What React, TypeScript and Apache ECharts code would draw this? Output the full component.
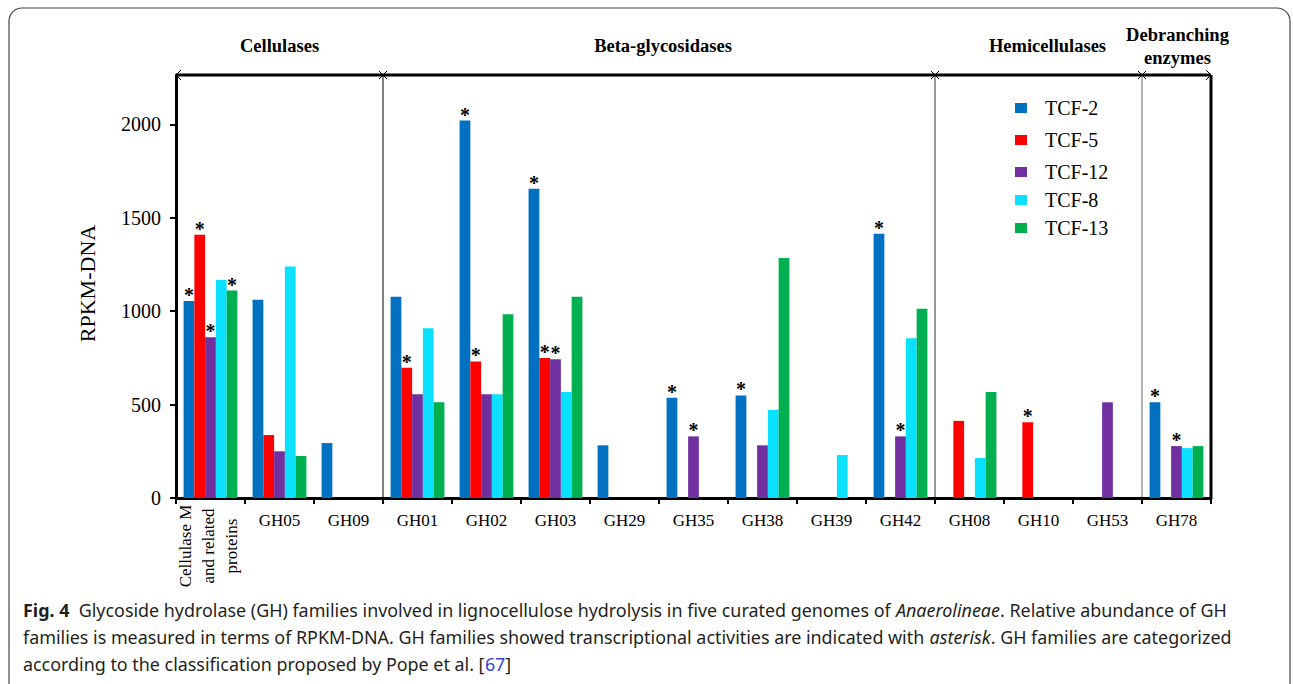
import React, { useEffect, useRef } from "react";
import * as echarts from "echarts";

const categories = [
  "Cellulase M\nand related\nproteins",
  "GH05", "GH09", "GH01", "GH02", "GH03", "GH29", "GH35", "GH38", "GH39", "GH42",
  "GH08", "GH10", "GH53", "GH78",
];
const seriesNames = ["TCF-2", "TCF-5", "TCF-12", "TCF-8", "TCF-13"];
const seriesColors = ["#0070C0", "#FF0000", "#7030A0", "#0AE0FF", "#00B050"];

const tcf2 = [1055, 1062, 294, 1078, 2021, 1656, 282, 537, 549, null, 1415, null, null, null, 513];
const tcf5 = [1410, 337, null, 697, 731, 749, null, null, null, null, null, 413, 406, null, null];
const tcf12 = [861, 250, null, 556, 556, 743, null, 330, 282, null, 330, null, null, 513, 278];
const tcf8 = [1167, 1239, null, 909, 556, 567, null, null, 471, 230, 856, 214, null, null, 267];
const tcf13 = [1111, 225, null, 513, 984, 1078, null, null, 1285, null, 1014, 567, null, null, 278];
const seriesValues = [tcf2, tcf5, tcf12, tcf8, tcf13];

// category indices marked with an asterisk (transcriptional activity)
const starTcf2 = [0, 4, 5, 7, 8, 10, 14];
const starTcf5 = [0, 3, 4, 5, 12];
const starTcf12 = [0, 5, 7, 10, 14];
const starTcf8: number[] = [];
const starTcf13 = [0];
const seriesStars = [starTcf2, starTcf5, starTcf12, starTcf8, starTcf13];

const yTicks = [0, 500, 1000, 1500, 2000];
const yMax = 2265;

const groupNames = ["Cellulases", "Beta-glycosidases", "Hemicellulases", "Debranching\nenzymes"];
const groupStart = [0, 3, 11, 14];
const groupEnd = [3, 11, 14, 15];

const yAxisName = "RPKM-DNA";

const captionLines = [
  "{b|Fig. 4}  Glycoside hydrolase (GH) families involved in lignocellulose hydrolysis in five curated genomes of {i|Anaerolineae}. Relative abundance of GH",
  "families is measured in terms of RPKM-DNA. GH families showed transcriptional activities are indicated with {i|asterisk}. GH families are categorized",
  "according to the classification proposed by Pope et al. [{l|67}]",
];

const SERIF = "Liberation Serif";
const SANS = "Noto Sans";
const CAP_SIZE = 17.5;

function buildOption(): any {
  const legendCenters = [108, 140, 172, 200, 228];
  return {
    animation: false,
    backgroundColor: "#ffffff",
    textStyle: { fontFamily: SERIF },
    grid: { left: 176, right: 82, top: 75, bottom: 186 },
    legend: seriesNames.map((name, i) => ({
      data: [name],
      left: 1015,
      top: legendCenters[i] - 10,
      orient: "vertical",
      icon: "rect",
      itemWidth: 12,
      itemHeight: 10,
      padding: 0,
      selectedMode: false,
      textStyle: {
        fontFamily: SERIF,
        fontSize: 20,
        lineHeight: 20,
        color: "#000",
        padding: [0, 0, 0, 13],
      },
    })),
    xAxis: [
      {
        type: "category",
        data: categories,
        gridIndex: 0,
        axisLine: { show: true, lineStyle: { color: "#000", width: 3 } },
        axisTick: { show: true, alignWithLabel: false, length: 6, lineStyle: { color: "#000", width: 2 } },
        axisLabel: {
          interval: 0,
          margin: 14,
          fontFamily: SERIF,
          fontSize: 17,
          color: "#000",
          formatter: (v: string, i: number) => (i === 0 ? "" : v),
        },
        splitLine: { show: false },
      },
      { type: "value", min: 0, max: 15, show: false, gridIndex: 0 },
    ],
    yAxis: {
      type: "value",
      min: 0,
      max: yMax,
      axisLine: { show: true, lineStyle: { color: "#000", width: 3 } },
      axisTick: { show: true, length: 6, lineStyle: { color: "#000", width: 2 }, customValues: yTicks },
      axisLabel: {
        fontFamily: SERIF,
        fontSize: 20,
        color: "#000",
        margin: 15,
        customValues: yTicks,
        formatter: (v: number) => String(v),
      },
      splitLine: { show: false },
    },
    series: seriesNames.map((name, si) => ({
      type: "bar",
      name,
      xAxisIndex: 0,
      yAxisIndex: 0,
      barGap: "0%",
      barCategoryGap: "22%",
      itemStyle: { color: seriesColors[si] },
      label: {
        show: false,
        position: "top",
        distance: -4,
        formatter: "*",
        fontFamily: SERIF,
        fontSize: 20,
        fontWeight: "bold",
        color: "#000",
      },
      data: seriesValues[si].map((v, ci) =>
        v == null ? null : seriesStars[si].includes(ci) ? { value: v, label: { show: true } } : v
      ),
    })),
  };
}

function measureScale(): number {
  try {
    const c = document.createElement("canvas");
    const ctx = c.getContext("2d")!;
    ctx.font = `${CAP_SIZE}px "${SANS}"`;
    const plain = captionLines[1].replace(/\{\w\|([^}]*)\}/g, "$1");
    const w = ctx.measureText(plain).width;
    const target = 1213;
    if (w > 0) return target / w;
  } catch (e) {}
  return 0.85;
}

function buildGraphic(chart: any): any[] {
  const xb = (v: number) => chart.convertToPixel({ xAxisIndex: 1 }, v) as number;
  const yTop = chart.convertToPixel({ yAxisIndex: 0 }, yMax) as number;
  const y0 = chart.convertToPixel({ yAxisIndex: 0 }, 0) as number;
  const xL = xb(0);
  const xR = xb(15);
  const els: any[] = [];

  // outer frame
  els.push({
    type: "rect",
    shape: { x: 9, y: 8, width: 1281, height: 720, r: 13 },
    style: { fill: "none", stroke: "#444", lineWidth: 1.2 },
    silent: true,
  });

  // top bracket line
  els.push({ type: "line", shape: { x1: xL, y1: yTop, x2: xR, y2: yTop }, style: { stroke: "#000", lineWidth: 3 } });
  // right edge
  els.push({ type: "line", shape: { x1: xR, y1: yTop, x2: xR, y2: y0 }, style: { stroke: "#000", lineWidth: 3 } });
  // arrows
  els.push({
    type: "polyline",
    shape: { points: [[xL + 5, yTop - 5], [xL, yTop], [xL + 5, yTop + 5]] },
    style: { stroke: "#000", lineWidth: 1, fill: "none" },
  });
  els.push({
    type: "polyline",
    shape: { points: [[xR - 5, yTop - 5], [xR, yTop], [xR - 5, yTop + 5]] },
    style: { stroke: "#000", lineWidth: 1, fill: "none" },
  });
  // dividers with X marks
  const dividerColors = ["#000", "#333", "#666"];
  [3, 11, 14].forEach((b, k) => {
    const x = xb(b);
    els.push({ type: "line", shape: { x1: x, y1: yTop, x2: x, y2: y0 }, style: { stroke: dividerColors[k], lineWidth: 1 } });
    els.push({ type: "line", shape: { x1: x - 4, y1: yTop - 4, x2: x + 4, y2: yTop + 4 }, style: { stroke: "#000", lineWidth: 1 } });
    els.push({ type: "line", shape: { x1: x - 4, y1: yTop + 4, x2: x + 4, y2: yTop - 4 }, style: { stroke: "#000", lineWidth: 1 } });
  });

  // group titles
  const titleShift = [0, 4, 9, 1];
  groupNames.forEach((g, i) => {
    const cx = (xb(groupStart[i]) + xb(groupEnd[i])) / 2 + titleShift[i];
    els.push({
      type: "text",
      x: cx,
      y: 46,
      style: {
        text: g,
        fontFamily: SERIF,
        fontSize: 18.5,
        fontWeight: "bold",
        fill: "#000",
        align: "center",
        verticalAlign: "middle",
        lineHeight: 23,
      },
    });
  });

  // y axis name
  els.push({
    type: "text",
    x: 87,
    y: (yTop + y0) / 2 - 3,
    rotation: Math.PI / 2,
    style: { text: yAxisName, fontFamily: SERIF, fontSize: 22, fill: "#000", align: "center", verticalAlign: "middle" },
  });

  // first (multi-line, rotated) category label
  const c0 = chart.convertToPixel({ xAxisIndex: 0 }, 0) as number;
  els.push({
    type: "text",
    x: c0 - 2,
    y: 546,
    rotation: Math.PI / 2,
    style: {
      text: categories[0],
      fontFamily: SERIF,
      fontSize: 17,
      lineHeight: 23,
      fill: "#000",
      align: "center",
      verticalAlign: "middle",
    },
  });

  // caption
  const s = measureScale();
  const capY = [610, 637, 664];
  els.push({
    type: "group",
    x: 23,
    y: 0,
    scaleX: s,
    children: captionLines.map((t, i) => ({
      type: "text",
      x: 0,
      y: capY[i],
      style: {
        text: t,
        fontFamily: SANS,
        fontSize: CAP_SIZE,
        fill: "#231F20",
        align: "left",
        verticalAlign: "middle",
        rich: {
          b: { fontFamily: SANS, fontSize: CAP_SIZE, fontWeight: "bold", fill: "#231F20" },
          i: { fontFamily: SANS, fontSize: CAP_SIZE, fontStyle: "italic", fill: "#231F20" },
          l: { fontFamily: SANS, fontSize: CAP_SIZE, fill: "#2F3FD8" },
        },
      },
    })),
  });
  return els;
}

export default function App() {
  const ref = useRef<HTMLDivElement>(null);
  useEffect(() => {
    const chart = echarts.init(ref.current!, null, { renderer: "svg" });
    chart.setOption(buildOption());
    chart.setOption({ graphic: { elements: buildGraphic(chart) } });
    return () => chart.dispose();
  }, []);
  return (
    <div
      ref={ref}
      style={{ position: "fixed", left: 0, top: 0, width: 1293, height: 684, background: "#fff" }}
    />
  );
}
